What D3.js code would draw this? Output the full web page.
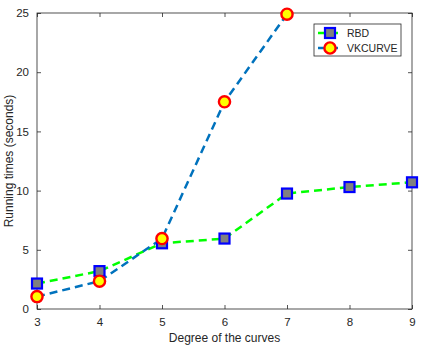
<!DOCTYPE html>
<html>
<head>
<meta charset="utf-8">
<script src="https://cdn.jsdelivr.net/npm/d3@7"></script>
<style>
  body { margin: 0; background: #fff; }
  text { font-family: "Liberation Sans", Arial, sans-serif; fill: #262626; }
</style>
</head>
<body>
<div id="chart"></div>
<script>
var degrees = [3, 4, 5, 6, 7, 8, 9];
var rbdTimes = [2.15, 3.2, 5.55, 5.95, 9.75, 10.3, 10.7];
var vkDegrees = [3, 4, 5, 6, 7];
var vkTimes = [1.05, 2.35, 5.95, 17.5, 24.9];
var yTicks = [0, 5, 10, 15, 20, 25];
var seriesNames = ["RBD", "VKCURVE"];

var width = 436, height = 348;
var plotLeft = 37, plotRight = 412, plotTop = 13, plotBottom = 309;

var svg = d3.select("#chart").append("svg")
    .attr("width", width)
    .attr("height", height);

var x = d3.scaleLinear().domain([3, 9]).range([plotLeft, plotRight]);
var y = d3.scaleLinear().domain([0, 25]).range([plotBottom, plotTop]);
var fmt = d3.format("d");

// box and ticks
var axisColor = "#262626";
svg.append("rect")
    .attr("x", plotLeft).attr("y", plotTop)
    .attr("width", plotRight - plotLeft).attr("height", plotBottom - plotTop)
    .attr("fill", "none").attr("stroke", axisColor).attr("stroke-width", 0.8);

svg.append("g")
    .attr("transform", "translate(0," + plotBottom + ")")
    .call(d3.axisBottom(x).tickValues(degrees).tickFormat(fmt).tickSizeInner(-4).tickSizeOuter(0).tickPadding(9))
    .call(function (g) { g.select(".domain").remove(); });
svg.append("g")
    .attr("transform", "translate(0," + plotTop + ")")
    .call(d3.axisTop(x).tickValues(degrees).tickSizeInner(-4).tickSizeOuter(0).tickFormat(""))
    .call(function (g) { g.select(".domain").remove(); });
svg.append("g")
    .attr("transform", "translate(" + plotLeft + ",0)")
    .call(d3.axisLeft(y).tickValues(yTicks).tickFormat(fmt).tickSizeInner(-4).tickSizeOuter(0).tickPadding(8))
    .call(function (g) { g.select(".domain").remove(); });
svg.append("g")
    .attr("transform", "translate(" + plotRight + ",0)")
    .call(d3.axisRight(y).tickValues(yTicks).tickSizeInner(-4).tickSizeOuter(0).tickFormat(""))
    .call(function (g) { g.select(".domain").remove(); });

svg.selectAll(".tick line").attr("stroke", axisColor).attr("stroke-width", 0.8);
svg.selectAll(".tick text").style("font-size", "11.5px").attr("fill", axisColor);

// labels
svg.append("text")
    .attr("x", (plotLeft + plotRight) / 2).attr("y", 342)
    .attr("text-anchor", "middle")
    .style("font-size", "12px")
    .text("Degree of the curves");
svg.append("text")
    .attr("transform", "translate(13," + (plotTop + plotBottom) / 2 + ") rotate(-90)")
    .attr("text-anchor", "middle")
    .style("font-size", "12px")
    .text("Running times (seconds)");

var line = d3.line()
    .x(function (d) { return x(d[0]); })
    .y(function (d) { return y(d[1]); });

var rbdData = degrees.map(function (d, i) { return [d, rbdTimes[i]]; });
var vkData = vkDegrees.map(function (d, i) { return [d, vkTimes[i]]; });

svg.append("path")
    .datum(rbdData)
    .attr("d", line)
    .attr("fill", "none")
    .attr("stroke", "#00ff00")
    .attr("stroke-width", 2.5)
    .attr("stroke-dasharray", "8,5");

svg.append("path")
    .datum(vkData)
    .attr("d", line)
    .attr("fill", "none")
    .attr("stroke", "#0072bd")
    .attr("stroke-width", 2.5)
    .attr("stroke-dasharray", "8,5");

function drawSquare(g, cx, cy) {
    g.append("rect")
        .attr("x", cx - 5).attr("y", cy - 5)
        .attr("width", 10).attr("height", 10)
        .attr("fill", "#808080")
        .attr("stroke", "#0000ff")
        .attr("stroke-width", 2.2);
}
function drawCircle(g, cx, cy) {
    g.append("circle")
        .attr("cx", cx).attr("cy", cy).attr("r", 5.6)
        .attr("fill", "#ffff00")
        .attr("stroke", "#ff0000")
        .attr("stroke-width", 2.4);
}

var marks = svg.append("g");
rbdData.forEach(function (d) { drawSquare(marks, x(d[0]), y(d[1])); });
vkData.forEach(function (d) { drawCircle(marks, x(d[0]), y(d[1])); });

// legend
var lg = svg.append("g");
lg.append("rect")
    .attr("x", 314).attr("y", 24)
    .attr("width", 87).attr("height", 32)
    .attr("fill", "#fff")
    .attr("stroke", axisColor).attr("stroke-width", 0.8);
var legendY = [33, 48];
var legendColors = ["#00ff00", "#0072bd"];
seriesNames.forEach(function (name, i) {
    lg.append("line")
        .attr("x1", 318).attr("x2", 338)
        .attr("y1", legendY[i]).attr("y2", legendY[i])
        .attr("stroke", legendColors[i]).attr("stroke-width", 2.5);
    if (i === 0) drawSquare(lg, 330, legendY[i]);
    else drawCircle(lg, 330, legendY[i]);
    lg.append("text")
        .attr("x", 347).attr("y", legendY[i] + 4)
        .style("font-size", "10.5px")
        .text(name);
});
</script>
</body>
</html>
